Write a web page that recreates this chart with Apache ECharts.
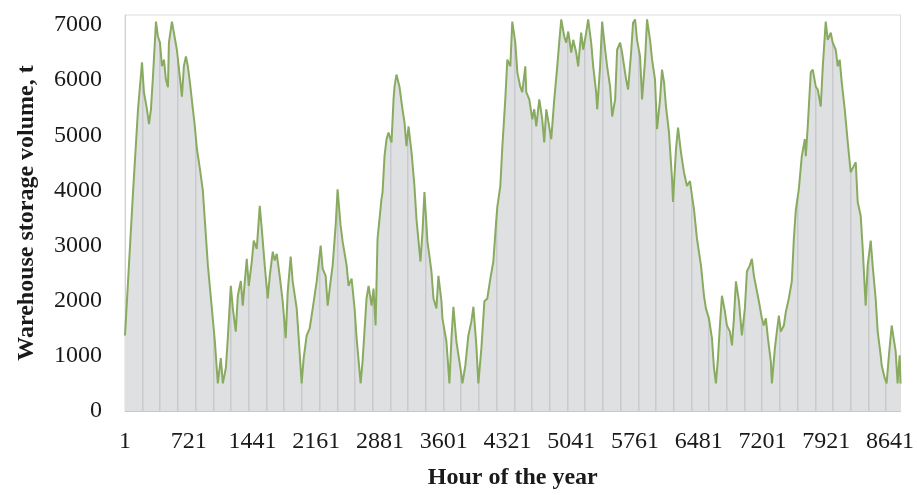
<!DOCTYPE html>
<html>
<head>
<meta charset="utf-8">
<script src="https://cdn.jsdelivr.net/npm/echarts@6/dist/echarts.min.js"></script>
<style>
  html, body { margin: 0; padding: 0; background: #ffffff; }
  #chart { width: 917px; height: 495px; }
</style>
</head>
<body>
<div id="chart"></div>
<script>
// Hour of the year (0-based index; axis labels show index + 1)
const hours = [
  0, 90, 147, 192, 214, 248, 271, 293, 316, 350, 372, 395, 417, 440, 462, 485, 496, 530, 552, 586,
  620, 643, 665, 688, 710, 733, 767, 789, 812, 846, 879, 936, 981, 1015, 1048, 1082, 1105, 1139, 1161, 1195,
  1218, 1251, 1274, 1308, 1330, 1375, 1398, 1432, 1454, 1488, 1522, 1545, 1578, 1612, 1635, 1669, 1691, 1714, 1747, 1781,
  1815, 1838, 1871, 1894, 1939, 1962, 1995, 2018, 2052, 2086, 2120, 2165, 2210, 2232, 2266, 2289, 2322, 2345, 2379, 2401,
  2435, 2458, 2503, 2525, 2559, 2593, 2616, 2661, 2683, 2728, 2751, 2785, 2807, 2830, 2852, 2897, 2909, 2931, 2954, 2976,
  3010, 3033, 3044, 3066, 3100, 3134, 3157, 3179, 3202, 3236, 3269, 3292, 3337, 3360, 3382, 3416, 3461, 3484, 3517, 3540,
  3574, 3585, 3630, 3664, 3687, 3709, 3743, 3788, 3811, 3844, 3878, 3912, 3935, 3968, 3991, 4025, 4059, 4092, 4126, 4160,
  4194, 4205, 4239, 4262, 4295, 4318, 4352, 4374, 4408, 4431, 4464, 4487, 4521, 4532, 4566, 4600, 4622, 4645, 4679, 4712,
  4735, 4758, 4791, 4814, 4848, 4882, 4904, 4927, 4961, 4983, 5006, 5040, 5062, 5096, 5118, 5152, 5175, 5209, 5231, 5265,
  5288, 5321, 5333, 5366, 5389, 5423, 5445, 5479, 5502, 5536, 5558, 5592, 5614, 5660, 5682, 5716, 5738, 5761, 5783, 5817,
  5840, 5874, 5896, 5930, 5953, 5986, 6009, 6043, 6065, 6088, 6110, 6144, 6178, 6189, 6223, 6246, 6279, 6313, 6347, 6381,
  6404, 6426, 6460, 6505, 6539, 6561, 6595, 6629, 6652, 6674, 6697, 6719, 6742, 6776, 6798, 6832, 6855, 6877, 6900, 6934,
  6967, 7001, 7024, 7057, 7080, 7103, 7125, 7159, 7193, 7215, 7238, 7261, 7294, 7306, 7340, 7362, 7385, 7407, 7441, 7464,
  7497, 7531, 7554, 7576, 7610, 7644, 7678, 7689, 7711, 7745, 7768, 7802, 7824, 7858, 7881, 7914, 7937, 7971, 7993, 8027,
  8050, 8072, 8095, 8129, 8163, 8196, 8230, 8253, 8275, 8309, 8332, 8365, 8388, 8422, 8444, 8478, 8501, 8535, 8546, 8580,
  8602, 8625, 8659, 8681, 8704, 8726, 8749, 8759
];

// Warehouse storage volume, t
const storage = [
  1370, 3950, 5470, 6320, 5780, 5470, 5200, 5470, 6070, 7060, 6790, 6680, 6250, 6370, 6010, 5870, 6680, 7060, 6860, 6550,
  6050, 5700, 6250, 6430, 6250, 5960, 5470, 5160, 4750, 4390, 4000, 2640, 1860, 1260, 500, 960, 500, 780, 1320, 2270,
  1860, 1440, 2090, 2360, 1910, 2760, 2270, 2710, 3090, 2940, 3720, 3300, 2640, 2040, 2450, 2890, 2730, 2850, 2450, 1990,
  1320, 2170, 2800, 2350, 1860, 1320, 500, 960, 1370, 1500, 1860, 2350, 3000, 2580, 2450, 1910, 2350, 2640, 3360, 4020,
  3360, 3070, 2640, 2270, 2400, 1860, 1320, 500, 900, 2040, 2270, 1910, 2220, 1550, 3120, 3845, 3970, 4620, 4930, 5050,
  4870, 5650, 5880, 6100, 5880, 5470, 5230, 4800, 5160, 4690, 4080, 3480, 2710, 3250, 3970, 3070, 2530, 2040, 1860, 2450,
  1990, 1680, 1260, 500, 1320, 1890, 1260, 780, 500, 830, 1370, 1620, 1890, 1190, 500, 1140, 1990, 2040, 2400, 2710,
  3480, 3700, 4080, 4800, 5650, 6370, 6250, 7060, 6680, 6140, 5880, 5780, 6250, 5780, 5650, 5290, 5470, 5160, 5650, 5290,
  4870, 5470, 5160, 4930, 5650, 6250, 6680, 7100, 6790, 6680, 6880, 6500, 6730, 6500, 6250, 6860, 6550, 6860, 7100, 6680,
  6250, 5780, 5470, 6250, 7060, 6550, 6250, 5880, 5340, 5650, 6550, 6680, 6500, 6010, 5830, 6500, 7040, 7100, 6730, 6430,
  5650, 6370, 7100, 6730, 6370, 6010, 5110, 5650, 6190, 5960, 5520, 5050, 4210, 3790, 4750, 5140, 4690, 4330, 4080, 4170,
  3900, 3660, 3120, 2640, 2090, 1860, 1680, 1320, 780, 500, 960, 1550, 2090, 1800, 1550, 1440, 1190, 1680, 2350, 1990,
  1370, 1860, 2530, 2640, 2760, 2450, 2270, 1990, 1680, 1550, 1680, 1320, 900, 500, 1140, 1440, 1730, 1440, 1550, 1800,
  2040, 2350, 3120, 3640, 4020, 4620, 4930, 4620, 5160, 6140, 6190, 5880, 5830, 5520, 6250, 7060, 6730, 6860, 6680, 6550,
  6250, 6370, 5960, 5470, 4870, 4330, 4440, 4510, 3790, 3540, 2940, 1910, 2640, 3090, 2640, 2040, 1440, 1010, 830, 600,
  500, 960, 1550, 1320, 1080, 500, 1010, 500
];

// Y-axis tick values
const yTicks = [0, 1000, 2000, 3000, 4000, 5000, 6000, 7000];
// Hours at which the fill shows its faint vertical stripes
const stripeHours = [];
for (let h = 200; h < 8760; h += 200) stripeHours.push(h);

const seriesData = hours.map((h, i) => [h, storage[i]]);

const chart = echarts.init(document.getElementById('chart'), null, { renderer: 'canvas' });

const serif = '"Liberation Serif", "Times New Roman", serif';
const fillGray = '#dfe0e2';

const option = {
  animation: false,
  grid: {
    left: 125, right: 15, top: 15, bottom: 81,
    show: true, borderColor: '#dcdcdc', borderWidth: 1, backgroundColor: 'transparent'
  },
  xAxis: {
    type: 'value',
    min: 0, max: 8759, interval: 720,
    name: 'Hour of the year',
    nameLocation: 'middle',
    nameGap: 55,
    nameTextStyle: { fontFamily: serif, fontSize: 24, fontWeight: 'bold', color: '#1a1a1a' },
    axisLine: { show: true, lineStyle: { color: '#c8c8c8', width: 1 } },
    axisTick: { show: false },
    splitLine: { show: false },
    axisLabel: {
      fontFamily: serif, fontSize: 24, color: '#1a1a1a', margin: 19,
      showMaxLabel: false,
      formatter: v => (v % 720 === 0 ? String(v + 1) : '')
    }
  },
  yAxis: {
    type: 'value',
    min: 0, max: 7180, interval: 1000,
    name: 'Warehouse storage volume, t',
    nameLocation: 'middle',
    nameGap: 86,
    nameTextStyle: { fontFamily: serif, fontSize: 24, fontWeight: 'bold', color: '#1a1a1a' },
    axisLine: { show: true, lineStyle: { color: '#d0d0d0', width: 1 } },
    axisTick: { show: false },
    splitLine: { show: false },
    axisLabel: {
      fontFamily: serif, fontSize: 24, color: '#1a1a1a', margin: 23,
      formatter: v => (yTicks.indexOf(v) >= 0 ? String(v) : '')
    }
  },
  series: [{
    type: 'line',
    data: seriesData,
    showSymbol: false,
    symbol: 'none',
    lineStyle: { color: '#89ab60', width: 2 },
    areaStyle: { color: fillGray, opacity: 1 },
    z: 2
  }]
};

chart.setOption(option);

// Build a full-size fill pattern with the darker stripes placed through the x scale
const pattern = document.createElement('canvas');
pattern.width = 917;
pattern.height = 495;
const ctx = pattern.getContext('2d');
ctx.fillStyle = fillGray;
ctx.fillRect(0, 0, pattern.width, pattern.height);
ctx.fillStyle = '#c9cacd';
stripeHours.forEach(h => {
  const px = chart.convertToPixel({ xAxisIndex: 0 }, h);
  ctx.fillRect(Math.round(px) - 1, 0, 1.5, pattern.height);
});

chart.setOption({
  series: [{ areaStyle: { color: { image: pattern, repeat: 'no-repeat' }, opacity: 1 } }]
});
</script>
</body>
</html>
